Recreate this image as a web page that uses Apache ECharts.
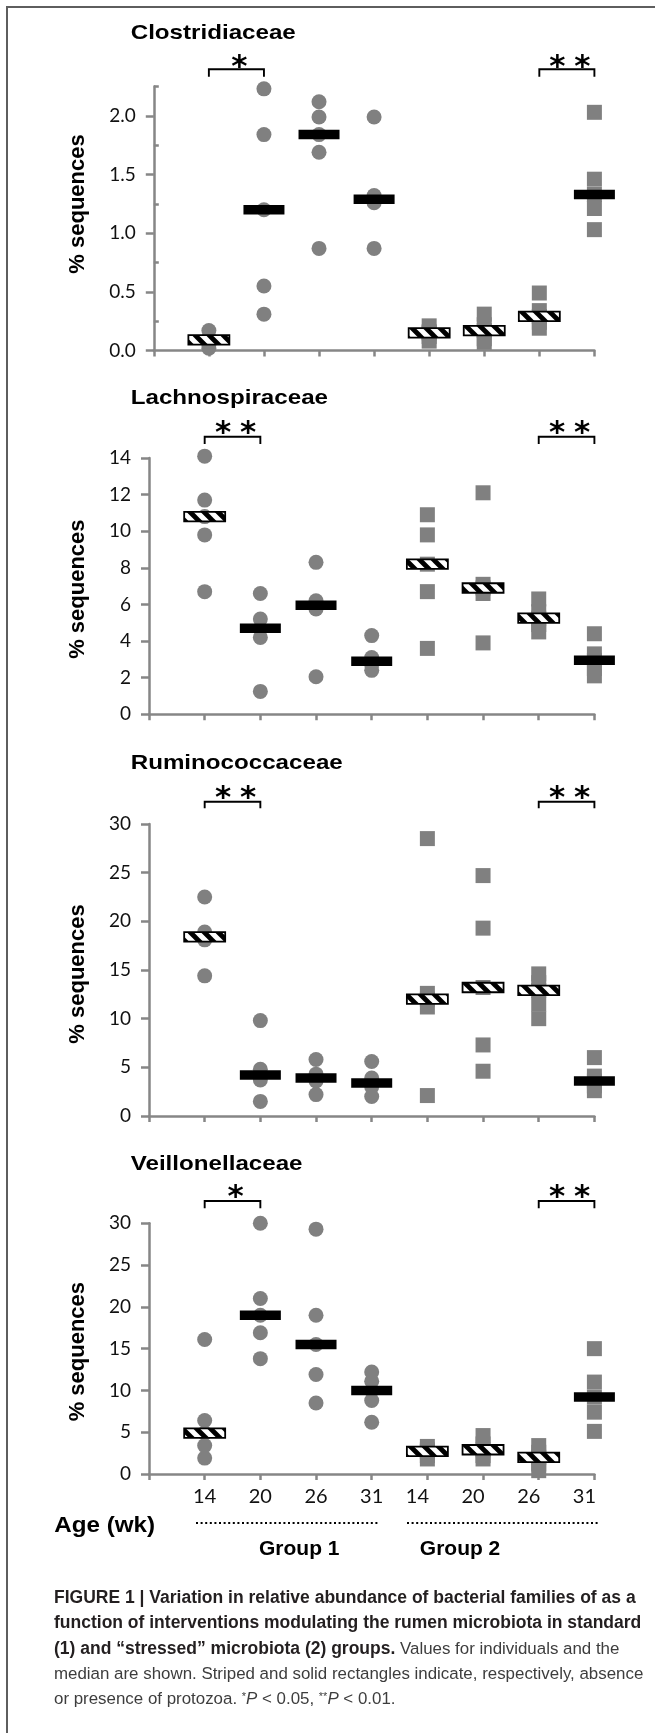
<!DOCTYPE html>
<html><head><meta charset="utf-8">
<script src="https://cdn.jsdelivr.net/npm/echarts@6/dist/echarts.min.js"></script>
<style>html,body{margin:0;padding:0;background:#fff}#c{width:655px;height:1733px}</style>
</head><body><div id="c"></div>
<script>
// ---------------- DATA ----------------
const families = ['Clostridiaceae', 'Lachnospiraceae', 'Ruminococcaceae', 'Veillonellaceae'];
const ageLabels = ['14', '20', '26', '31', '14', '20', '26', '31'];
const groupLabels = ['Group 1', 'Group 2'];
const protozoaPresent = [0, 1, 1, 1, 0, 0, 0, 1]; // 0 = striped (absent), 1 = solid (present)

const clostridiaceaeValues = [
  [0.17, 0.11, 0.09, 0.05, 0.02], [2.23, 1.84, 1.20, 0.55, 0.31], [2.12, 1.99, 1.84, 1.69, 0.87], [1.99, 1.32, 1.29, 1.26, 0.87],
  [0.21, 0.16, 0.15, 0.12, 0.08], [0.31, 0.22, 0.17, 0.10, 0.07], [0.49, 0.34, 0.29, 0.24, 0.19], [2.03, 1.46, 1.33, 1.21, 1.03]
];
const clostridiaceaeMedians = [0.09, 1.20, 1.84, 1.29, 0.15, 0.17, 0.29, 1.33];

const lachnospiraceaeValues = [
  [14.1, 11.7, 10.8, 9.8, 6.7], [6.6, 5.2, 4.7, 4.2, 1.25], [8.3, 6.2, 5.95, 5.75, 2.05], [4.3, 3.1, 2.9, 2.7, 2.4],
  [10.9, 9.8, 8.2, 6.7, 3.6], [12.1, 7.1, 6.9, 6.6, 3.9], [6.3, 5.6, 5.25, 4.9, 4.5], [4.4, 3.3, 2.95, 2.5, 2.1]
];
const lachnospiraceaeMedians = [10.8, 4.7, 5.95, 2.9, 8.2, 6.9, 5.25, 2.95];

const ruminococcaceaeValues = [
  [22.5, 18.9, 18.4, 18.1, 14.4], [9.8, 4.8, 4.2, 3.7, 1.5], [5.8, 4.3, 3.9, 3.6, 2.2], [5.6, 3.9, 3.4, 3.0, 2.0],
  [28.5, 12.6, 12.0, 11.2, 2.1], [24.7, 19.3, 13.2, 7.3, 4.6], [14.6, 13.7, 12.9, 11.5, 10.0], [6.0, 4.1, 3.6, 3.1, 2.6]
];
const ruminococcaceaeMedians = [18.4, 4.2, 3.9, 3.4, 12.0, 13.2, 12.9, 3.6];

const veillonellaceaeValues = [
  [16.1, 6.4, 4.9, 3.4, 1.9], [30.0, 21.0, 19.0, 16.9, 13.8], [29.3, 19.0, 15.5, 11.9, 8.5], [12.2, 11.1, 10.0, 8.8, 6.2],
  [3.3, 2.9, 2.7, 2.2, 1.8], [4.6, 3.6, 2.9, 2.2, 1.8], [3.4, 2.6, 2.0, 1.2, 0.4], [15.0, 11.0, 9.2, 7.4, 5.1]
];
const veillonellaceaeMedians = [4.9, 19.0, 15.5, 10.0, 2.7, 2.9, 2.0, 9.2];

const yAxisMax = [2.25, 14, 30, 30];
const yTickLabels = [[0, 0.5, 1, 1.5, 2], [0, 2, 4, 6, 8, 10, 12, 14], [0, 5, 10, 15, 20, 25, 30], [0, 5, 10, 15, 20, 25, 30]];
const yMinorTicks = [0.25, 0.75, 1.25, 1.75, 2.25];
const significance = [
  [[1, 2, '*'], [7, 8, '**']],
  [[1, 2, '**'], [7, 8, '**']],
  [[1, 2, '**'], [7, 8, '**']],
  [[1, 2, '*'], [7, 8, '**']]
];
const captionLines = [
  [['b', 'FIGURE 1 | Variation in relative abundance of bacterial families of as a']],
  [['b', 'function of interventions modulating the rumen microbiota in standard']],
  [['b', '(1) and \u201cstressed\u201d microbiota (2) groups.'], ['r', ' Values for individuals and the']],
  [['r', 'median are shown. Striped and solid rectangles indicate, respectively, absence']],
  [['r', 'or presence of protozoa. '], ['s', '*'], ['i', 'P'], ['r', ' < 0.05, '], ['s', '**'], ['i', 'P'], ['r', ' < 0.01.']]
];

const familyValues = [clostridiaceaeValues, lachnospiraceaeValues, ruminococcaceaeValues, veillonellaceaeValues];
const familyMedians = [clostridiaceaeMedians, lachnospiraceaeMedians, ruminococcaceaeMedians, veillonellaceaeMedians];

// ---------------- LAYOUT / STYLE ----------------
const GRID = [
  {left: 153.8, top: 86.5, width: 440.6, height: 264},
  {left: 149, top: 458, width: 445.4, height: 256.3},
  {left: 149, top: 824, width: 445.4, height: 292},
  {left: 149, top: 1223.3, width: 445.4, height: 250.7}
];
const TITLE_Y = [33, 398, 763, 1164];
const NAME_SHIFT = [14.5, -3, -4, -3];
const BRACKET = [
  {line: 17.2, leg: 7.4, star: 24.5},
  {line: 21.3, leg: 7.3, star: 30},
  {line: 22.3, leg: 6.5, star: 30.7},
  {line: 22.3, leg: 7.3, star: 31}
];
const AXIS_COLOR = '#868686';
const MARK_COLOR = '#808080';

function makeStripe() {
  const n = 14, b = 3.4;
  const c = document.createElement('canvas');
  c.width = n; c.height = n;
  const g = c.getContext('2d');
  g.fillStyle = '#fff'; g.fillRect(0, 0, n, n);
  g.fillStyle = '#000';
  g.beginPath(); g.moveTo(0, 0); g.lineTo(b, 0); g.lineTo(n, n - b); g.lineTo(n, n); g.lineTo(n - b, n); g.lineTo(0, b); g.closePath(); g.fill();
  g.beginPath(); g.moveTo(n - b, 0); g.lineTo(n, 0); g.lineTo(n, b); g.closePath(); g.fill();
  g.beginPath(); g.moveTo(0, n - b); g.lineTo(0, n); g.lineTo(b, n); g.closePath(); g.fill();
  return c;
}
const stripe = makeStripe();

const chart = echarts.init(document.getElementById('c'), null, {renderer: 'canvas'});

const grid = [], xAxis = [], yAxis = [], series = [];
families.forEach((fam, i) => {
  const gl = GRID[i];
  grid.push({left: gl.left, top: gl.top, width: gl.width, height: gl.height, containLabel: false});
  const last = i === families.length - 1;
  xAxis.push({
    type: 'value', gridIndex: i, min: 0, max: 8, interval: 1,
    axisLine: {show: true, onZero: false, lineStyle: {color: AXIS_COLOR, width: 2.5}},
    axisTick: {show: true, length: 6, lineStyle: {color: AXIS_COLOR, width: 2.5}},
    splitLine: {show: false},
    axisLabel: last ? {
      show: true, customValues: [1, 2, 3, 4, 5, 6, 7, 8], margin: 13,
      formatter: v => {
        const k = Math.round(v) - 1;
        return (k >= 4 ? '{g2|' : '{g1|') + ageLabels[k] + '}';
      },
      rich: {
        g1: {fontFamily: 'Lato', fontSize: 20, color: '#111'},
        g2: {fontFamily: 'Lato', fontSize: 20, color: '#111', padding: [0, 20, 0, 0]}
      }
    } : {show: false}
  });
  const yFmt = i === 0 ? (v => v.toFixed(1)) : (v => String(v));
  yAxis.push({
    type: 'value', gridIndex: i, min: 0, max: yAxisMax[i],
    interval: i === 0 ? 0.5 : yTickLabels[i][1],
    axisLine: {show: true, onZero: false, lineStyle: {color: AXIS_COLOR, width: 2.5}},
    axisTick: {show: true, length: 8, customValues: yTickLabels[i], lineStyle: {color: AXIS_COLOR, width: 2.5}},
    axisLabel: {
      show: true, customValues: yTickLabels[i], margin: 18,
      formatter: v => (yTickLabels[i].indexOf(v) >= 0 ? yFmt(v) : ''),
      fontFamily: 'Lato', fontSize: 19, color: '#111'
    },
    splitLine: {show: false},
    name: '% sequences', nameLocation: 'middle', nameGap: (i === 0 ? 65 : 60), nameMoveOverlap: false,
    nameTextStyle: {
      fontFamily: 'Liberation Sans', fontWeight: 'bold', fontSize: 22, color: '#000',
      padding: NAME_SHIFT[i] >= 0 ? [0, 0, 0, 2 * NAME_SHIFT[i]] : [0, -2 * NAME_SHIFT[i], 0, 0]
    }
  });

  const vals = familyValues[i];
  const circles = [], squares = [];
  vals.forEach((col, k) => col.forEach(v => (k < 4 ? circles : squares).push([k + 1, v])));
  series.push({
    type: 'scatter', name: fam + ' group 1', xAxisIndex: i, yAxisIndex: i, data: circles,
    symbol: 'circle', symbolSize: 15, itemStyle: {color: MARK_COLOR, opacity: 1}, clip: false, silent: true, z: 2
  });
  series.push({
    type: 'scatter', name: fam + ' group 2', xAxisIndex: i, yAxisIndex: i, data: squares,
    symbol: 'rect', symbolSize: 15, itemStyle: {color: MARK_COLOR, opacity: 1}, clip: false, silent: true, z: 2
  });
  series.push({
    type: 'custom', name: fam + ' median', xAxisIndex: i, yAxisIndex: i, silent: true, z: 5, clip: false,
    data: familyMedians[i].map((m, k) => [k + 1, m, protozoaPresent[k]]),
    renderItem: (params, api) => {
      const p = api.coord([api.value(0), api.value(1)]);
      const w = 41, h = 9.5;
      const solid = api.value(2) === 1;
      return {
        type: 'rect',
        shape: {x: p[0] - w / 2, y: p[1] - h / 2, width: w, height: h},
        style: solid ? {fill: '#000'} : {fill: {image: stripe, repeat: 'repeat'}, stroke: '#000', lineWidth: 1.8}
      };
    }
  });
  const bl = BRACKET[i];
  series.push({
    type: 'custom', name: fam + ' significance', xAxisIndex: i, yAxisIndex: i, silent: true, z: 6, clip: false,
    data: significance[i].map(s => [s[0], s[1]]),
    renderItem: (params, api) => {
      const a = api.coord([api.value(0), yAxisMax[i]]);
      const b = api.coord([api.value(1), yAxisMax[i]]);
      const y = a[1] - bl.line;
      const label = significance[i][params.dataIndex][2];
      const cx = (a[0] + b[0]) / 2 + 3;
      const children = [{
        type: 'polyline',
        shape: {points: [[a[0], y + bl.leg], [a[0], y], [b[0], y], [b[0], y + bl.leg]]},
        style: {stroke: '#000', lineWidth: 1.9, fill: null}
      }];
      const n = label.length;
      for (let s = 0; s < n; s++) {
        children.push({
          type: 'text',
          x: cx + (s - (n - 1) / 2) * 25, y: a[1] - bl.star + 6,
          style: {text: '*', font: 'bold 31px "DejaVu Sans"', fill: '#000', align: 'center', verticalAlign: 'middle'}
        });
      }
      return {type: 'group', children};
    }
  });
});
// minor ticks for the first panel
yAxis.push({
  type: 'value', gridIndex: 0, min: 0, max: yAxisMax[0], interval: 0.25,
  axisLine: {show: false},
  axisTick: {show: true, length: 5, customValues: yMinorTicks, lineStyle: {color: AXIS_COLOR, width: 2.5}},
  axisLabel: {show: false}, splitLine: {show: false}
});

// ---------------- TEXT GRAPHICS ----------------
const graphic = [];
graphic.push({type: 'polyline', shape: {points: [[7, 1745], [7, 7], [660, 7]]}, style: {stroke: '#5e5e5e', lineWidth: 2, fill: null}, silent: true});
families.forEach((fam, i) => {
  graphic.push({
    type: 'text', x: 130.7, y: TITLE_Y[i], scaleX: 1.15,
    style: {text: fam, font: 'bold 21px "Liberation Sans"', fill: '#000', align: 'left', verticalAlign: 'middle'}
  });
});
graphic.push({type: 'text', x: 54.3, y: 1526, scaleX: 1.1,
  style: {text: 'Age (wk)', font: 'bold 22px "Liberation Sans"', fill: '#000', align: 'left', verticalAlign: 'middle'}});
graphic.push({type: 'line', shape: {x1: 196, y1: 1523, x2: 378, y2: 1523}, style: {stroke: '#000', lineWidth: 2, lineDash: [2, 2.6]}});
graphic.push({type: 'line', shape: {x1: 407, y1: 1523, x2: 599.4, y2: 1523}, style: {stroke: '#000', lineWidth: 2, lineDash: [2, 2.6]}});
graphic.push({type: 'text', x: 259, y: 1549, scaleX: 1.05,
  style: {text: groupLabels[0], font: 'bold 20px "Liberation Sans"', fill: '#000', align: 'left', verticalAlign: 'middle'}});
graphic.push({type: 'text', x: 419.8, y: 1549, scaleX: 1.05,
  style: {text: groupLabels[1], font: 'bold 20px "Liberation Sans"', fill: '#000', align: 'left', verticalAlign: 'middle'}});

const CAP_Y = [1598, 1623.5, 1649, 1674, 1699.5];
const capRich = {
  b: {fontFamily: 'Liberation Sans', fontWeight: 'bold', fontSize: 17.5, fill: '#231f20'},
  r: {fontFamily: 'Liberation Sans', fontWeight: 'normal', fontSize: 16.9, fill: '#3d3d3d'},
  i: {fontFamily: 'Liberation Sans', fontWeight: 'normal', fontStyle: 'italic', fontSize: 16.9, fill: '#3d3d3d'},
  s: {fontFamily: 'Liberation Sans', fontWeight: 'normal', fontSize: 11, fill: '#3d3d3d', verticalAlign: 'top'}
};
captionLines.forEach((line, k) => {
  graphic.push({
    type: 'text', x: 54, y: CAP_Y[k],
    style: {text: line.map(([t, s]) => '{' + t + '|' + s + '}').join(''), rich: capRich, align: 'left', verticalAlign: 'middle'}
  });
});

chart.setOption({
  animation: false,
  backgroundColor: '#fff',
  grid, xAxis, yAxis, series, graphic
});
</script></body></html>
